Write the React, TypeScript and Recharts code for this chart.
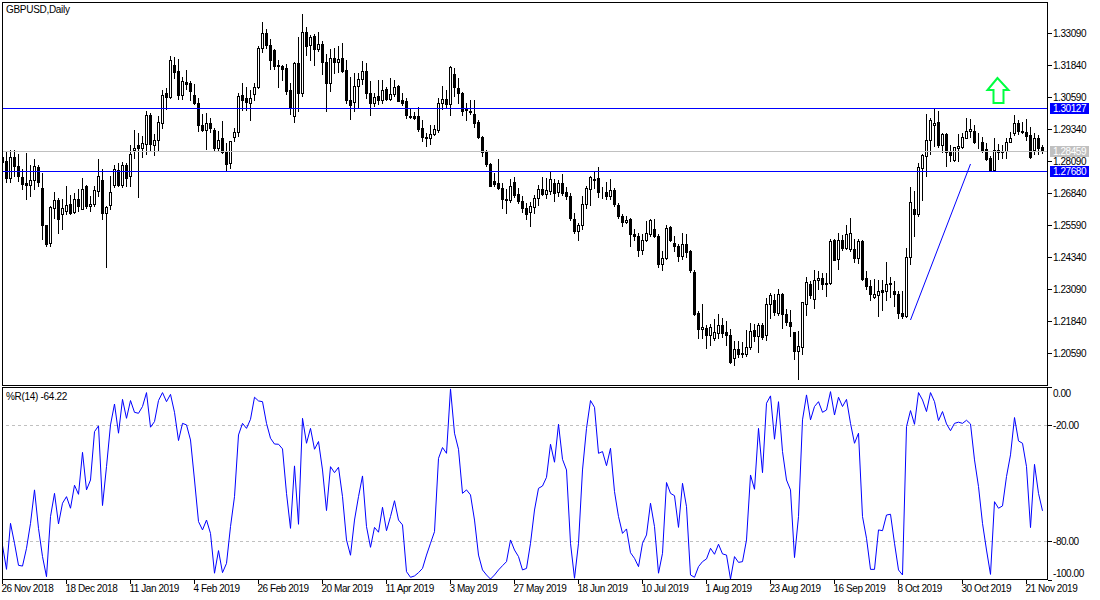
import { ComposedChart, Bar, Line, XAxis, YAxis, ReferenceLine, ReferenceDot } from "recharts";

const FONT = '"Liberation Sans", sans-serif';
const BLUE = "#0000ff";
const SILVER = "#c0c0c0";

// prices in 1/10000, one entry per daily bar
const opens = [
  12823,12810,12742,12824,12788,12745,12724,12715,12733,12783,
  12703,12560,12487,12624,12654,12600,12611,12642,12608,12658,
  12621,12709,12632,12642,12690,12732,12606,12636,12714,12774,
  12714,12791,12749,12850,12869,12860,12876,12986,12870,12891,
  12956,13072,13060,13185,13158,13064,13116,13113,13064,13035,
  12949,12929,12955,12931,12860,12896,12845,12801,12901,12922,
  13064,13054,13033,13069,13098,13250,13309,13263,13242,13185,
  13181,13172,13084,12983,13189,13074,13313,13261,13298,13244,
  13267,13196,13112,13211,13194,13209,13162,13048,13038,13103,
  13130,13158,13074,13033,13063,13048,13090,13052,13068,13103,
  13048,13041,12985,12982,12982,12938,12901,12897,12914,12929,
  13033,13051,13030,13146,13095,13074,13013,13005,12992,12961,
  12903,12847,12797,12731,12723,12703,12660,12655,12727,12680,
  12653,12625,12608,12629,12664,12699,12679,12690,12723,12686,
  12723,12688,12673,12580,12534,12557,12642,12699,12738,12740,
  12688,12688,12671,12695,12636,12595,12569,12580,12524,12516,
  12460,12499,12521,12541,12517,12404,12430,12550,12488,12478,
  12436,12485,12455,12375,12215,12152,12156,12130,12116,12138,
  12169,12141,12129,12037,12074,12059,12054,12082,12149,12124,
  12169,12128,12249,12267,12214,12289,12212,12181,12141,12065,
  12082,12250,12328,12270,12344,12353,12333,12331,12498,12426,
  12501,12468,12465,12466,12429,12495,12353,12320,12276,12284,
  12306,12300,12332,12302,12289,12216,12202,12434,12621,12603,
  12780,12827,12890,12949,12962,12870,12912,12849,12811,12857,
  12863,12899,12926,12927,12884,12884,12856,12818,12771,12853,
  12849,12847,12883,12919,12955,12925,12923,12908,12850,12899,12864,
];
const highs = [
  12847,12843,12853,12853,12837,12775,12840,12794,12814,12792,
  12762,12560,12632,12688,12664,12658,12710,12677,12684,12697,
  12740,12716,12671,12710,12817,12775,12632,12749,12791,12801,
  12804,12801,12870,12931,12918,12905,13003,12994,12912,12983,
  13087,13094,13220,13215,13205,13137,13163,13120,13107,13055,
  12990,12996,12977,12938,12925,12964,12879,12888,12938,13074,
  13111,13098,13085,13113,13257,13352,13322,13285,13244,13201,
  13185,13188,13111,13194,13292,13384,13332,13302,13306,13313,
  13276,13227,13244,13250,13257,13270,13201,13137,13153,13153,
  13198,13192,13120,13074,13123,13126,13098,13133,13123,13104,
  13072,13055,13016,12999,13020,12968,12918,12947,12948,13055,
  13103,13087,13179,13172,13133,13077,13035,13048,13048,12970,
  12905,12853,12801,12762,12814,12723,12697,12736,12746,12701,
  12671,12645,12647,12677,12716,12745,12742,12764,12736,12732,
  12759,12707,12684,12606,12567,12673,12710,12749,12768,12785,
  12707,12727,12736,12703,12645,12603,12593,12586,12541,12525,
  12521,12573,12580,12580,12521,12456,12560,12556,12517,12482,
  12525,12521,12462,12384,12222,12251,12169,12172,12189,12212,
  12195,12185,12150,12104,12104,12100,12147,12176,12173,12176,
  12176,12274,12293,12287,12309,12291,12231,12228,12141,12143,
  12259,12354,12339,12384,12378,12371,12371,12504,12505,12527,
  12518,12560,12584,12505,12504,12501,12378,12345,12348,12343,
  12345,12414,12354,12339,12300,12300,12469,12707,12690,12801,
  12834,12990,12977,13013,13003,12918,12918,12869,12863,12912,
  12918,12977,12974,12947,12918,12901,12879,12827,12899,12873,
  12869,12899,12921,12986,12970,12961,12974,12940,12916,12909,12869,
];
const lows = [
  12788,12725,12725,12749,12729,12697,12658,12671,12697,12710,
  12505,12478,12475,12586,12525,12541,12603,12603,12606,12612,
  12619,12625,12612,12632,12671,12582,12393,12619,12706,12710,
  12706,12710,12710,12821,12667,12824,12834,12853,12831,12853,
  12938,13012,13055,13133,13051,13051,13090,13048,13029,12925,
  12925,12856,12921,12847,12847,12840,12771,12781,12888,12905,
  13009,13009,12968,13046,13094,13233,13250,13169,13166,13097,
  13123,13068,12990,12960,13003,13061,13222,13202,13185,13237,
  13146,13003,13081,13153,13155,13155,13033,12974,13005,13016,
  13107,13055,12987,13022,13029,13035,13046,13048,13061,13041,
  13025,12978,12977,12973,12927,12886,12866,12873,12908,12921,
  13012,13016,12986,13061,13035,12986,12968,12992,12942,12899,
  12827,12788,12710,12712,12697,12623,12606,12647,12668,12645,
  12610,12582,12556,12606,12638,12677,12664,12681,12651,12671,
  12677,12658,12576,12527,12501,12544,12623,12638,12703,12668,
  12664,12658,12658,12632,12586,12556,12564,12478,12499,12436,
  12443,12495,12517,12511,12395,12382,12426,12495,12456,12417,
  12426,12434,12374,12208,12115,12117,12076,12089,12107,12117,
  12120,12091,12020,12013,12043,12043,12048,12074,12104,12061,
  12111,12108,12195,12206,12206,12154,12169,12126,12033,11957,
  12056,12208,12274,12232,12310,12310,12280,12326,12423,12388,
  12462,12465,12456,12413,12410,12345,12309,12267,12271,12202,
  12225,12267,12278,12241,12194,12195,12199,12406,12514,12593,
  12654,12749,12837,12866,12863,12844,12788,12807,12810,12810,
  12857,12896,12901,12879,12860,12843,12811,12768,12768,12817,
  12818,12820,12882,12908,12914,12918,12892,12821,12836,12835,12840,
];
const closes = [
  12805,12742,12824,12788,12749,12720,12714,12735,12787,12728,
  12560,12485,12629,12654,12580,12623,12637,12606,12658,12634,
  12699,12632,12642,12696,12748,12604,12629,12686,12778,12714,
  12791,12742,12837,12860,12858,12879,12986,12873,12891,12959,
  13067,13059,13201,13155,13064,13119,13108,13081,13035,12948,
  12929,12955,12938,12860,12892,12843,12796,12886,12922,13063,
  13048,13037,13055,13098,13250,13309,13261,13202,13179,13179,
  13168,13081,13016,13189,13072,13313,13257,13294,13244,13267,
  13194,13111,13211,13194,13207,13158,13046,13025,13103,13129,
  13158,13072,13033,13060,13048,13087,13051,13071,13098,13043,
  13035,12986,12979,12978,12935,12901,12899,12914,12934,13033,
  13051,13029,13176,13098,13074,13005,13007,13001,12957,12901,
  12843,12797,12710,12720,12701,12660,12655,12710,12677,12651,
  12623,12603,12634,12664,12699,12681,12696,12738,12682,12723,
  12684,12671,12586,12534,12560,12641,12703,12746,12733,12686,
  12686,12671,12695,12640,12593,12569,12578,12524,12514,12460,
  12500,12525,12577,12514,12404,12430,12547,12499,12475,12436,
  12485,12452,12382,12212,12150,12160,12130,12158,12141,12168,
  12138,12130,12022,12074,12056,12054,12082,12145,12123,12168,
  12119,12250,12283,12218,12289,12212,12180,12163,12065,12084,
  12257,12336,12283,12344,12352,12327,12328,12496,12423,12500,
  12469,12524,12525,12429,12494,12349,12319,12287,12287,12302,
  12297,12328,12326,12287,12214,12202,12434,12649,12603,12785,
  12830,12892,12970,12957,12870,12912,12845,12831,12861,12865,
  12901,12927,12934,12882,12882,12853,12814,12771,12850,12843,
  12844,12884,12899,12955,12925,12921,12905,12824,12899,12860,12846,
];
const williams = [
  -82.2,-94.5,-70.7,-81.0,-92.4,-92.8,-83.6,-70.7,-53.4,-73.3,
  -87.9,-98.3,-67.2,-55.2,-71.0,-60.3,-56.9,-62.9,-51.0,-55.7,
  -34.0,-53.4,-48.3,-23.3,-20.3,-61.5,-41.4,-19.8,-9.0,-24.1,
  -6.6,-16.4,-7.2,-13.3,-13.8,-10.3,-3.1,-21.0,-18.1,-7.2,
  -3.1,-7.8,-4.0,-13.3,-27.9,-19.0,-19.8,-27.6,-48.3,-69.8,
  -74.1,-69.0,-75.9,-96.5,-84.8,-96.2,-91.4,-72.4,-56.9,-25.0,
  -19.0,-21.6,-16.9,-5.5,-7.4,-7.8,-19.0,-26.7,-29.7,-29.8,
  -32.2,-55.2,-73.3,-41.0,-71.2,-16.4,-29.3,-21.6,-32.4,-28.4,
  -43.1,-64.1,-41.4,-44.5,-41.7,-56.9,-79.3,-87.2,-69.0,-56.9,
  -46.2,-72.4,-83.1,-72.8,-75.3,-62.4,-74.5,-67.2,-59.0,-69.0,
  -71.5,-95.7,-98.6,-97.9,-96.2,-94.0,-87.1,-81.0,-75.0,-37.1,
  -31.5,-34.5,-1.2,-24.1,-32.4,-55.2,-53.4,-56.0,-69.0,-87.1,
  -94.8,-97.4,-99.5,-97.4,-94.8,-92.6,-90.5,-79.3,-84.5,-87.9,
  -94.8,-94.0,-81.0,-63.8,-52.6,-51.4,-46.9,-29.8,-39.1,-19.5,
  -37.6,-43.1,-81.0,-99.1,-81.0,-43.1,-21.6,-7.2,-10.7,-34.5,
  -33.6,-40.9,-31.9,-54.3,-67.2,-75.9,-73.6,-85.9,-88.8,-93.1,
  -81.0,-76.7,-60.3,-72.4,-96.5,-86.2,-49.6,-55.2,-56.4,-72.8,
  -50.0,-62.1,-97.4,-98.6,-93.1,-90.5,-89.1,-83.6,-86.7,-81.5,
  -86.5,-87.1,-99.5,-87.9,-90.9,-90.5,-79.3,-45.7,-53.1,-21.6,
  -44.5,-8.6,-4.8,-27.2,-7.8,-33.6,-48.3,-53.4,-88.4,-67.2,
  -17.2,-4.3,-17.2,-10.3,-7.8,-13.3,-12.1,-2.6,-14.7,-5.5,
  -10.3,-6.6,-19.0,-29.3,-24.1,-67.2,-78.4,-94.5,-94.5,-74.1,
  -74.5,-66.4,-66.0,-81.0,-94.8,-97.4,-20.7,-12.4,-19.5,-3.1,
  -6.9,-12.9,-3.1,-7.8,-17.6,-12.9,-19.3,-22.8,-19.0,-18.4,
  -19.0,-17.4,-19.3,-37.9,-51.7,-70.7,-84.5,-97.1,-59.5,-62.9,
  -61.7,-46.5,-35.3,-16.0,-28.1,-29.3,-41.4,-72.9,-40.2,-55.2,-64.22,
];

const dateLabels = [
  "26 Nov 2018","18 Dec 2018","11 Jan 2019","4 Feb 2019","26 Feb 2019","20 Mar 2019",
  "11 Apr 2019","3 May 2019","27 May 2019","18 Jun 2019","10 Jul 2019","1 Aug 2019",
  "23 Aug 2019","16 Sep 2019","8 Oct 2019","30 Oct 2019","21 Nov 2019",
];
const dateTicks = dateLabels.map((_, i) => i * 16);
const priceTicks = [1.3309,1.3184,1.3059,1.2934,1.2809,1.2684,1.2559,1.2434,1.2309,1.2184,1.2059];
const williamsTicks = [0,-20,-80,-100];
const resistance = 1.30127;
const support = 1.2768;
const lastPrice = 1.28459;
const trendStart = { x: 227, y: 1.2187 };
const trendEnd = { x: 242, y: 1.27964 };
const arrowAt = { x: 249, y: 1.30854 };

const rows = opens.map((o, i) => ({
  bar: i,
  open: o / 10000,
  high: highs[i] / 10000,
  low: lows[i] / 10000,
  close: closes[i] / 10000,
  range: [lows[i] / 10000, highs[i] / 10000],
  wpr: williams[i],
}));

const xDomain = [-0.5, 261.125];
const labelStyle = { fontSize: 10, fontFamily: FONT, letterSpacing: -0.45 };

function Candle(props: any) {
  const { x, y, width, height, payload } = props;
  const { open, high, low, close } = payload;
  const at = (p: number) => y + ((high - p) * height) / (high - low);
  const cx = Math.floor(x + width / 2) + 0.5;
  const top = Math.round(at(Math.max(open, close))) + 0.5;
  const bottom = Math.round(at(Math.min(open, close))) + 0.5;
  return (
    <g shapeRendering="crispEdges">
      <line x1={cx} x2={cx} y1={Math.round(y)} y2={Math.round(y + height) + 1} stroke="#000" />
      <rect x={cx - 1} y={top} width={2} height={bottom - top} stroke="#000" fill={close > open ? "#fff" : "#000"} />
    </g>
  );
}

function PriceTick(props: any) {
  const { x, y, payload } = props;
  const value: number = payload.value;
  const row = Math.round(y);
  const fill = value === lastPrice ? SILVER : value === resistance || value === support ? BLUE : null;
  if (fill) {
    return (
      <g>
        <rect x={x + 3} y={Math.floor(y) - 5} width={39} height={11} fill={fill} shapeRendering="crispEdges" />
        <text x={x + 6} y={Math.floor(y) + 4} style={labelStyle} fill="#fff">{value.toFixed(5)}</text>
      </g>
    );
  }
  return (
    <g>
      <line x1={x + 1} x2={x + 5} y1={row + 0.5} y2={row + 0.5} stroke="#000" shapeRendering="crispEdges" />
      <text x={x + 6} y={row + 4} style={labelStyle} fill="#000">{value.toFixed(5)}</text>
    </g>
  );
}

function WilliamsTick(props: any) {
  const { x, y, payload } = props;
  const value: number = payload.value;
  const row = Math.round(y);
  const shift = value === 0 ? 6 : value === -100 ? -7 : 0;
  return (
    <g>
      <line x1={x + 1} x2={x + 5} y1={row + 0.5} y2={row + 0.5} stroke="#000" shapeRendering="crispEdges" />
      <text x={x + 6} y={row + 4 + shift} style={labelStyle} fill="#000">{value.toFixed(2)}</text>
    </g>
  );
}

function DateTick(props: any) {
  const { x, payload, index } = props;
  const col = Math.floor(x) + 0.5;
  return (
    <g>
      <line x1={col} x2={col} y1={193} y2={198} stroke="#000" shapeRendering="crispEdges" />
      <text x={x - 1} y={206} style={labelStyle} fill="#000">{dateLabels[index] ?? String(payload.value)}</text>
    </g>
  );
}

function UpArrow(props: any) {
  const { cx, cy } = props;
  const pts = [[-1,-12],[-11,0],[-5,0],[-5,13],[5,13],[5,0],[10,0]]
    .map(([a, b]) => `${cx + a},${cy + b}`)
    .join(" ");
  return <polygon points={pts} fill="#fff" stroke="#00ff40" strokeWidth={2} />;
}

const box = (left: number, top: number, width: number, height: number): React.CSSProperties => ({
  position: "absolute", left, top, width, height, boxSizing: "border-box", border: "1px solid #000",
});
const caption = (top: number): React.CSSProperties => ({
  position: "absolute", left: 6, top, fontFamily: FONT, fontSize: 10, letterSpacing: -0.3, lineHeight: "12px", color: "#000",
});

export default function App() {
  return (
    <div style={{ position: "absolute", left: 0, top: 0, width: 1100, height: 600, background: "#fff", overflow: "hidden" }}>
      <div style={{ position: "absolute", left: 0, top: 0 }}>
        <ComposedChart width={1100} height={386} data={rows} margin={{ top: 2, right: 0, bottom: 1, left: 0.5 }}>
          <XAxis dataKey="bar" type="number" domain={xDomain} hide />
          <YAxis
            orientation="right"
            width={53}
            domain={[1.19331, 1.34292]}
            allowDataOverflow
            ticks={[...priceTicks, resistance, support, lastPrice]}
            interval={0}
            axisLine={false}
            tickLine={false}
            tickSize={0}
            tickMargin={0}
            tick={<PriceTick />}
          />
          <ReferenceLine y={lastPrice} stroke={SILVER} shapeRendering="crispEdges" />
          <ReferenceLine y={resistance} stroke={BLUE} shapeRendering="crispEdges" />
          <ReferenceLine y={support} stroke={BLUE} shapeRendering="crispEdges" />
          <Bar dataKey="range" barSize={3} shape={<Candle />} isAnimationActive={false} />
          <ReferenceLine segment={[trendStart, trendEnd]} stroke={BLUE} ifOverflow="visible" />
          <ReferenceDot x={arrowAt.x} y={arrowAt.y} shape={<UpArrow />} ifOverflow="visible" />
        </ComposedChart>
      </div>
      <div style={{ position: "absolute", left: 0, top: 386 }}>
        <ComposedChart width={1100} height={214} data={rows} margin={{ top: 0.6, right: 0, bottom: 0, left: 0.5 }}>
          <XAxis
            dataKey="bar"
            type="number"
            domain={xDomain}
            ticks={dateTicks}
            interval={0}
            height={20}
            axisLine={false}
            tickLine={false}
            tickSize={0}
            tick={<DateTick />}
          />
          <YAxis
            orientation="right"
            width={53}
            domain={[-100, 0]}
            ticks={williamsTicks}
            interval={0}
            axisLine={false}
            tickLine={false}
            tickSize={0}
            tickMargin={0}
            tick={<WilliamsTick />}
          />
          <ReferenceLine y={-20} stroke={SILVER} strokeDasharray="3 3" shapeRendering="crispEdges" />
          <ReferenceLine y={-80} stroke={SILVER} strokeDasharray="3 3" shapeRendering="crispEdges" />
          <Line dataKey="wpr" stroke={BLUE} strokeWidth={1} dot={false} isAnimationActive={false} />
        </ComposedChart>
      </div>
      <div style={{ position: "absolute", left: 0, top: 0, width: 2, height: 579, background: "#fff" }} />
      <div style={box(2, 2, 1046, 384)} />
      <div style={box(2, 387, 1046, 193)} />
      <div style={caption(4)}>GBPUSD,Daily</div>
      <div style={caption(391)}>%R(14) -64.22</div>
    </div>
  );
}
